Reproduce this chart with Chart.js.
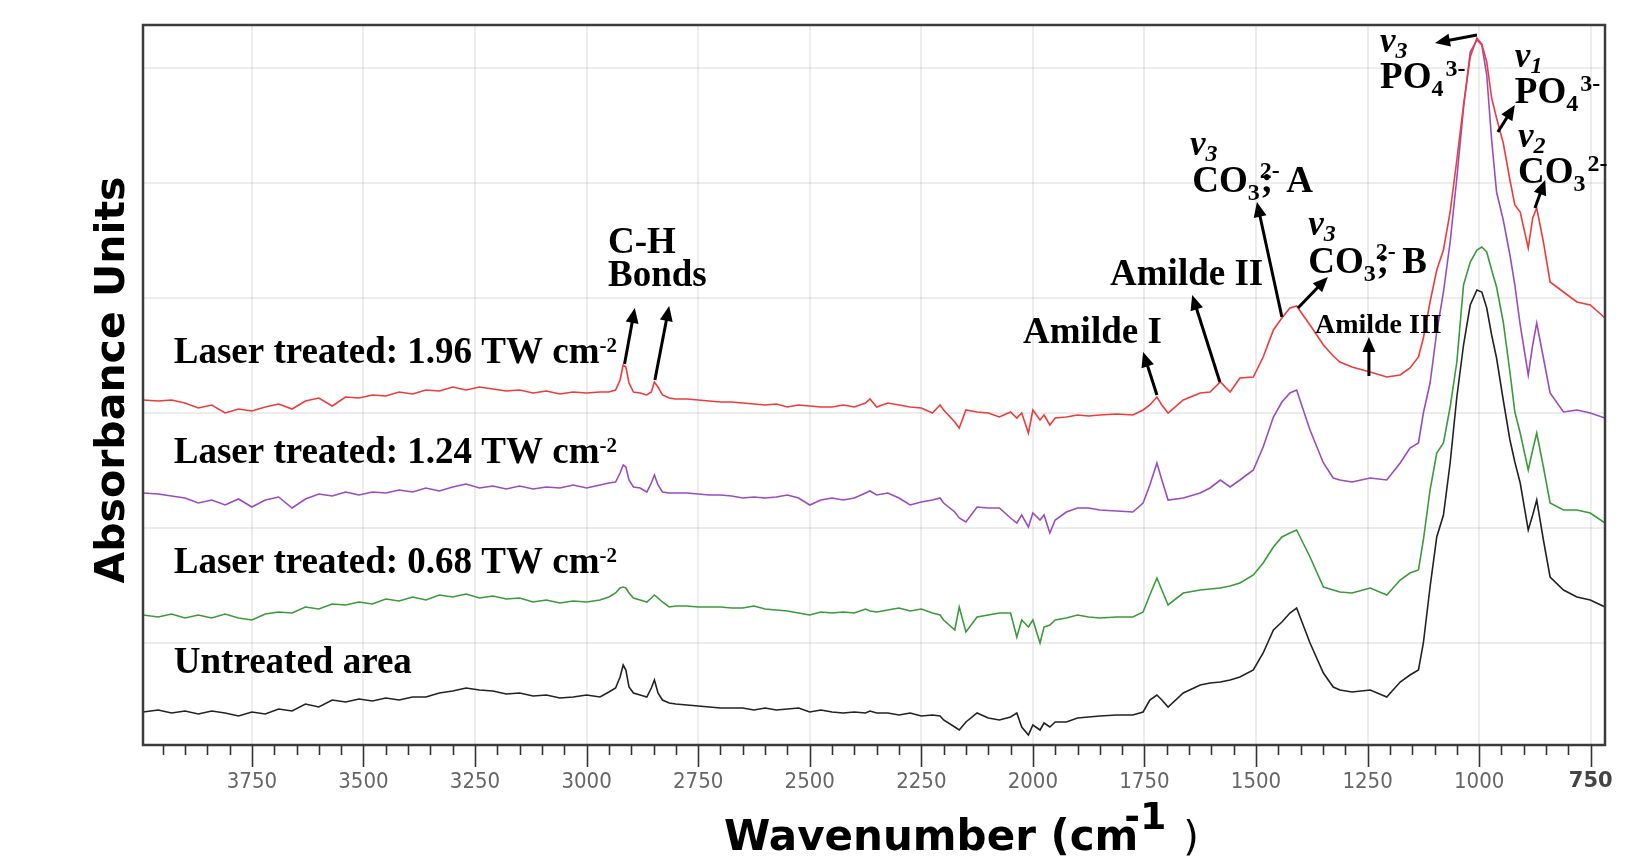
<!DOCTYPE html>
<html>
<head>
<meta charset="utf-8">
<title>FTIR spectra</title>
<script src="https://cdn.jsdelivr.net/npm/chart.js@4.4.1/dist/chart.umd.min.js"></script>
<style>
  html, body { margin: 0; padding: 0; background: #fff; }
  #wrap { width: 1650px; height: 862px; position: relative; }
</style>
</head>
<body>
<div id="wrap"><canvas id="ftir"></canvas></div>
<script>
// wavenumber (cm-1), high to low
var wavenumbers = [
  3994, 3960, 3930, 3900, 3870, 3840, 3810, 3780, 3750, 3720, 3690, 3660, 3630, 3600, 3570, 3540, 3510, 3480, 3450, 3420, 3390, 3360, 3330, 3300, 3270, 3240, 3210, 3180, 3150, 3120, 3090, 3060, 3030, 3000, 2970,
  2950, 2935, 2925, 2918, 2912, 2905, 2895, 2880, 2865, 2855, 2848, 2840, 2830, 2815, 2800,
  2775, 2750, 2725, 2700, 2675, 2650, 2625, 2600, 2575, 2550, 2525, 2500, 2475, 2450, 2425, 2400, 2375, 2365, 2350, 2325, 2300, 2275, 2250, 2225, 2208, 2200, 2175, 2165, 2150, 2125, 2100, 2075, 2050, 2036, 2025, 2010, 2000, 1984, 1975, 1962, 1950, 1925, 1900, 1875, 1850,
  1812, 1776, 1753, 1738, 1722, 1711, 1697, 1663, 1625, 1603, 1580, 1558, 1536, 1506, 1484, 1461, 1442,
  1424, 1409, 1379, 1349, 1327, 1312, 1285, 1244, 1207, 1177, 1155, 1136, 1125, 1110, 1095, 1080, 1065, 1050, 1035, 1020, 1005, 994, 983, 972, 961, 946, 931, 920, 908, 890, 880, 871, 856, 841, 811, 781, 751, 718
];

// absorbance (offset spectra, arbitrary units)
var laser196 = [
  .716, .714, .716, .710, .700, .706, .690, .698, .694, .702, .708, .698, .714, .720, .704, .722, .720, .726, .724, .732, .728, .736, .734, .742, .736, .742, .738, .734, .736, .730, .734, .728, .732, .730, .732,
  .732, .736, .756, .786, .782, .750, .732, .730, .726, .732, .752, .742, .726, .720, .718,
  .718, .716, .714, .712, .712, .710, .708, .706, .708, .702, .706, .704, .702, .702, .706, .702, .710, .718, .702, .710, .706, .702, .700, .690, .706, .696, .672, .660, .696, .692, .690, .682, .692, .680, .690, .650, .696, .676, .686, .666, .680, .682, .686, .684, .686,
  .688, .686, .696, .706, .722, .706, .690, .716, .730, .732, .752, .732, .760, .762, .802, .856, .880,
  .900, .904, .866, .826, .804, .792, .782, .772, .762, .766, .780, .802, .840, .912, .976, 1.016, 1.092, 1.196, 1.306, 1.402, 1.440, 1.428, 1.392, 1.320, 1.280, 1.230, 1.156, 1.106, 1.092, 1.020, 1.080, 1.100, 1.032, .952, .932, .912, .906, .880
];
var laser124 = [
  .530, .528, .524, .520, .510, .516, .506, .518, .502, .516, .522, .500, .518, .528, .524, .532, .526, .532, .530, .536, .532, .540, .534, .542, .548, .540, .544, .538, .544, .538, .542, .540, .546, .540, .546,
  .550, .552, .570, .586, .582, .556, .542, .540, .532, .550, .566, .546, .532, .530, .530,
  .530, .528, .526, .526, .524, .520, .522, .520, .522, .526, .520, .506, .516, .520, .516, .520, .530, .534, .526, .530, .520, .506, .512, .516, .520, .510, .492, .480, .472, .502, .500, .500, .480, .470, .486, .462, .490, .476, .486, .450, .476, .492, .500, .500, .496,
  .494, .492, .510, .546, .590, .556, .516, .520, .530, .540, .556, .542, .556, .576, .622, .682, .712,
  .730, .736, .656, .590, .560, .556, .552, .560, .556, .590, .620, .630, .690, .750, .852, .932, 1.032, 1.160, 1.300, 1.412, 1.436, 1.426, 1.366, 1.236, 1.132, 1.076, 1.006, .946, .866, .766, .826, .870, .800, .730, .692, .696, .690, .680
];
var laser068 = [
  .286, .282, .288, .280, .286, .280, .288, .280, .276, .288, .292, .290, .302, .298, .308, .306, .312, .308, .318, .314, .322, .316, .326, .322, .328, .320, .324, .318, .320, .312, .316, .310, .314, .312, .316,
  .322, .330, .340, .342, .340, .330, .320, .316, .312, .320, .326, .320, .312, .302, .304,
  .304, .302, .302, .302, .300, .300, .304, .298, .296, .294, .290, .286, .292, .290, .292, .290, .298, .294, .292, .296, .300, .294, .298, .290, .286, .276, .256, .302, .252, .282, .286, .290, .290, .242, .276, .262, .276, .230, .262, .266, .276, .280, .286, .282, .280,
  .282, .282, .292, .326, .360, .336, .306, .330, .336, .338, .340, .344, .350, .366, .390, .422, .442,
  .450, .456, .402, .342, .336, .332, .330, .340, .326, .356, .370, .376, .436, .536, .610, .630, .702, .792, .946, .992, 1.016, 1.022, 1.012, .976, .942, .872, .772, .692, .650, .576, .616, .650, .582, .510, .496, .496, .490, .470
];
var untreated = [
  .092, .096, .090, .094, .088, .094, .090, .084, .092, .088, .098, .094, .108, .102, .116, .112, .118, .114, .120, .116, .122, .122, .130, .134, .140, .136, .134, .128, .130, .124, .126, .120, .122, .126, .122,
  .132, .140, .162, .186, .176, .142, .130, .126, .122, .140, .156, .130, .116, .110, .108,
  .106, .104, .102, .100, .100, .100, .096, .100, .096, .098, .100, .092, .096, .092, .090, .092, .090, .094, .090, .090, .086, .090, .084, .086, .084, .076, .062, .056, .072, .090, .080, .076, .082, .090, .062, .046, .066, .056, .070, .062, .072, .072, .080, .082, .084,
  .086, .086, .092, .116, .126, .116, .102, .130, .146, .150, .152, .156, .162, .176, .210, .256, .272,
  .290, .300, .230, .170, .142, .136, .132, .136, .122, .152, .166, .176, .230, .342, .442, .486, .590, .722, .826, .906, .936, .932, .900, .846, .800, .716, .636, .592, .550, .456, .486, .516, .436, .362, .336, .322, .316, .302
];

// axis ticks
var xTicks = [];
for (var t = 750; t <= 3950; t += 50) xTicks.push(t);
var yGrid = [0.23, 0.46, 0.69, 0.92, 1.15, 1.38];

var series = [
  { label: 'Laser treated: 1.96 TW cm-2', values: laser196, color: '#ee3b3b' },
  { label: 'Laser treated: 1.24 TW cm-2', values: laser124, color: '#9a4cbf' },
  { label: 'Laser treated: 0.68 TW cm-2', values: laser068, color: '#3b9a3b' },
  { label: 'Untreated area', values: untreated, color: '#222222' }
];

function points(vals) {
  return wavenumbers.map(function (w, i) { return { x: w, y: vals[i] }; });
}

var SERIF = "'Liberation Serif', 'Times New Roman', serif";
var BIG = 'bold 37px ' + SERIF;
var SUB = 'bold 24px ' + SERIF;
var SUP = 'bold 21px ' + SERIF;
var CSUP = 'bold 24px ' + SERIF;
var NU = 'italic bold 35px ' + SERIF;
var NUSUB = 'italic bold 24px ' + SERIF;

function nu(n) { return [{ t: 'v', f: NU }, { t: n, f: NUSUB, dy: 6 }]; }

// labels placed at (wavenumber, absorbance) of their left baseline
var notes = [
  { w: 3925, v: 0.790, parts: [{ t: 'Laser treated: 1.96 TW cm', f: BIG }, { t: '-2', f: SUP, dy: -11 }] },
  { w: 3925, v: 0.590, parts: [{ t: 'Laser treated: 1.24 TW cm', f: BIG }, { t: '-2', f: SUP, dy: -11 }] },
  { w: 3925, v: 0.370, parts: [{ t: 'Laser treated: 0.68 TW cm', f: BIG }, { t: '-2', f: SUP, dy: -11 }] },
  { w: 3925, v: 0.170, parts: [{ t: 'Untreated area', f: BIG }] },
  { w: 2952, v: 1.010, parts: [{ t: 'C-H', f: BIG }] },
  { w: 2952, v: 0.944, parts: [{ t: 'Bonds', f: BIG }] },
  { w: 2022, v: 0.830, parts: [{ t: 'Amilde I', f: BIG }] },
  { w: 1827, v: 0.946, parts: [{ t: 'Amilde II', f: BIG }] },
  { w: 1648, v: 1.206, parts: nu('3') },
  { w: 1643, v: 1.132, parts: [{ t: 'CO', f: BIG }, { t: '3', f: SUB, dy: 8 }, { t: '2-', f: CSUP, dy: -14, hold: true }, { t: ';', f: BIG, dx: 1 }, { t: ' A', f: BIG, dx: 4 }] },
  { w: 1383, v: 1.046, parts: nu('3') },
  { w: 1383, v: 0.970, parts: [{ t: 'CO', f: BIG }, { t: '3', f: SUB, dy: 8 }, { t: '2-', f: CSUP, dy: -14, hold: true }, { t: ';', f: BIG, dx: 1 }, { t: ' B', f: BIG, dx: 4 }] },
  { w: 1368, v: 0.850, parts: [{ t: 'Amilde III', f: 'bold 28px ' + SERIF }] },
  { w: 1222, v: 1.412, parts: nu('3') },
  { w: 1222, v: 1.340, parts: [{ t: 'PO', f: BIG }, { t: '4', f: SUB, dy: 8 }, { t: '3-', f: CSUP, dy: -12, dx: 2 }] },
  { w: 920, v: 1.382, parts: nu('1') },
  { w: 920, v: 1.310, parts: [{ t: 'PO', f: BIG }, { t: '4', f: SUB, dy: 8 }, { t: '3-', f: CSUP, dy: -12, dx: 2 }] },
  { w: 913, v: 1.222, parts: nu('2') },
  { w: 913, v: 1.150, parts: [{ t: 'CO', f: BIG }, { t: '3', f: SUB, dy: 8 }, { t: '2-', f: CSUP, dy: -12, dx: 2 }] }
];

// arrows from the band to its label: [w1, v1, w2, v2]
var arrows = [
  [2915, 0.788, 2892, 0.900],
  [2847, 0.756, 2815, 0.904],
  [1722, 0.726, 1753, 0.812],
  [1581, 0.752, 1643, 0.926],
  [1442, 0.882, 1498, 1.112],
  [1406, 0.900, 1339, 0.962],
  [1247, 0.764, 1247, 0.842],
  [1005, 1.446, 1099, 1.430],
  [958, 1.252, 920, 1.306],
  [875, 1.100, 852, 1.156]
];

function rich(ctx, x, y, parts) {
  var cx = x;
  parts.forEach(function (p) {
    ctx.font = p.f;
    var px = cx + (p.dx || 0);
    ctx.fillText(p.t, px, y + (p.dy || 0));
    if (!p.hold) cx = px + ctx.measureText(p.t).width;
  });
}

function arrow(ctx, x1, y1, x2, y2) {
  var ang = Math.atan2(y2 - y1, x2 - x1), L = 15, W = 6.5;
  ctx.beginPath();
  ctx.moveTo(x1, y1);
  ctx.lineTo(x2 - L * 0.7 * Math.cos(ang), y2 - L * 0.7 * Math.sin(ang));
  ctx.stroke();
  ctx.beginPath();
  ctx.moveTo(x2, y2);
  ctx.lineTo(x2 - L * Math.cos(ang) + W * Math.sin(ang), y2 - L * Math.sin(ang) - W * Math.cos(ang));
  ctx.lineTo(x2 - L * Math.cos(ang) - W * Math.sin(ang), y2 - L * Math.sin(ang) + W * Math.cos(ang));
  ctx.closePath();
  ctx.fill();
}

var overlay = {
  id: 'overlay',
  afterDraw: function (chart) {
    var ctx = chart.ctx, a = chart.chartArea, xs = chart.scales.x, ys = chart.scales.y;
    ctx.save();
    // frame
    ctx.strokeStyle = '#3c3c3c';
    ctx.lineWidth = 2.5;
    ctx.strokeRect(a.left, a.top, a.right - a.left, a.bottom - a.top);
    // tick marks, long ones every 250
    ctx.strokeStyle = '#333';
    ctx.lineWidth = 1.6;
    xs.ticks.forEach(function (tk) {
      var px = Math.round(xs.getPixelForValue(tk.value)) + 0.5;
      var len = tk.value % 250 === 0 ? 22 : 10;
      ctx.beginPath();
      ctx.moveTo(px, a.bottom);
      ctx.lineTo(px, a.bottom + len);
      ctx.stroke();
    });

    // annotations
    ctx.fillStyle = '#000';
    ctx.textBaseline = 'alphabetic';
    ctx.textAlign = 'left';
    notes.forEach(function (n) {
      rich(ctx, xs.getPixelForValue(n.w), ys.getPixelForValue(n.v), n.parts);
    });
    ctx.strokeStyle = '#000';
    ctx.lineWidth = 3;
    arrows.forEach(function (r) {
      arrow(ctx, xs.getPixelForValue(r[0]), ys.getPixelForValue(r[1]), xs.getPixelForValue(r[2]), ys.getPixelForValue(r[3]));
    });

    // axis titles
    ctx.fillStyle = '#000';
    ctx.font = "bold 42px 'DejaVu Sans', sans-serif";
    var tx = 724, ty = 850;
    ctx.fillText('Wavenumber (cm', tx, ty);
    tx += ctx.measureText('Wavenumber (cm').width;
    ctx.font = "bold 38px 'DejaVu Sans', sans-serif";
    ctx.fillText('-1', tx - 14, ty - 21);
    tx += ctx.measureText('-1').width - 14;
    ctx.font = "40px 'DejaVu Sans', sans-serif";
    ctx.fillText(' )', tx + 4, ty);

    ctx.translate(124, 380);
    ctx.rotate(-Math.PI / 2);
    ctx.textAlign = 'center';
    ctx.font = "bold 41px 'DejaVu Sans', sans-serif";
    ctx.fillText('Absorbance Units', 0, 0);
    ctx.restore();
  }
};

var TICKFONT = "'Liberation Sans Narrow', 'DejaVu Sans Condensed', 'Liberation Sans', sans-serif";

new Chart(document.getElementById('ftir'), {
  type: 'line',
  data: {
    datasets: series.map(function (s) {
      return {
        label: s.label,
        data: points(s.values),
        borderColor: s.color,
        borderWidth: 1.6,
        pointRadius: 0,
        tension: 0,
        fill: false
      };
    })
  },
  options: {
    responsive: true,
    maintainAspectRatio: false,
    animation: false,
    devicePixelRatio: 1,
    layout: { padding: { top: 25, right: 45, left: 0, bottom: 0 } },
    plugins: { legend: { display: false }, tooltip: { enabled: false } },
    scales: {
      x: {
        type: 'linear',
        reverse: true,
        min: 718,
        max: 3994,
        afterBuildTicks: function (s) { s.ticks = xTicks.map(function (v) { return { value: v }; }); },
        afterFit: function (s) { s.height = 117; s.paddingLeft = 0; s.paddingRight = 0; },
        grid: {
          color: function (c) { return c.tick && c.tick.value % 250 === 0 ? 'rgba(0,0,0,0.07)' : 'rgba(0,0,0,0)'; },
          lineWidth: 2,
          drawTicks: false
        },
        border: { display: false },
        ticks: {
          autoSkip: false,
          maxRotation: 0,
          padding: 24,
          callback: function (v) { return v % 250 === 0 ? String(v) : ''; },
          font: function (c) {
            if (c.tick && c.tick.value === 750) return { family: "'DejaVu Sans', sans-serif", size: 21, weight: 'bold' };
            return { family: TICKFONT, size: 22 };
          },
          color: function (c) { return c.tick && c.tick.value === 750 ? '#444' : '#666'; }
        }
      },
      y: {
        min: 0.026,
        max: 1.466,
        afterBuildTicks: function (s) { s.ticks = yGrid.map(function (v) { return { value: v }; }); },
        afterFit: function (s) { s.width = 143; },
        grid: { color: 'rgba(0,0,0,0.07)', lineWidth: 2, drawTicks: false },
        border: { display: false },
        ticks: { display: false }
      }
    }
  },
  plugins: [overlay]
});
</script>
</body>
</html>
